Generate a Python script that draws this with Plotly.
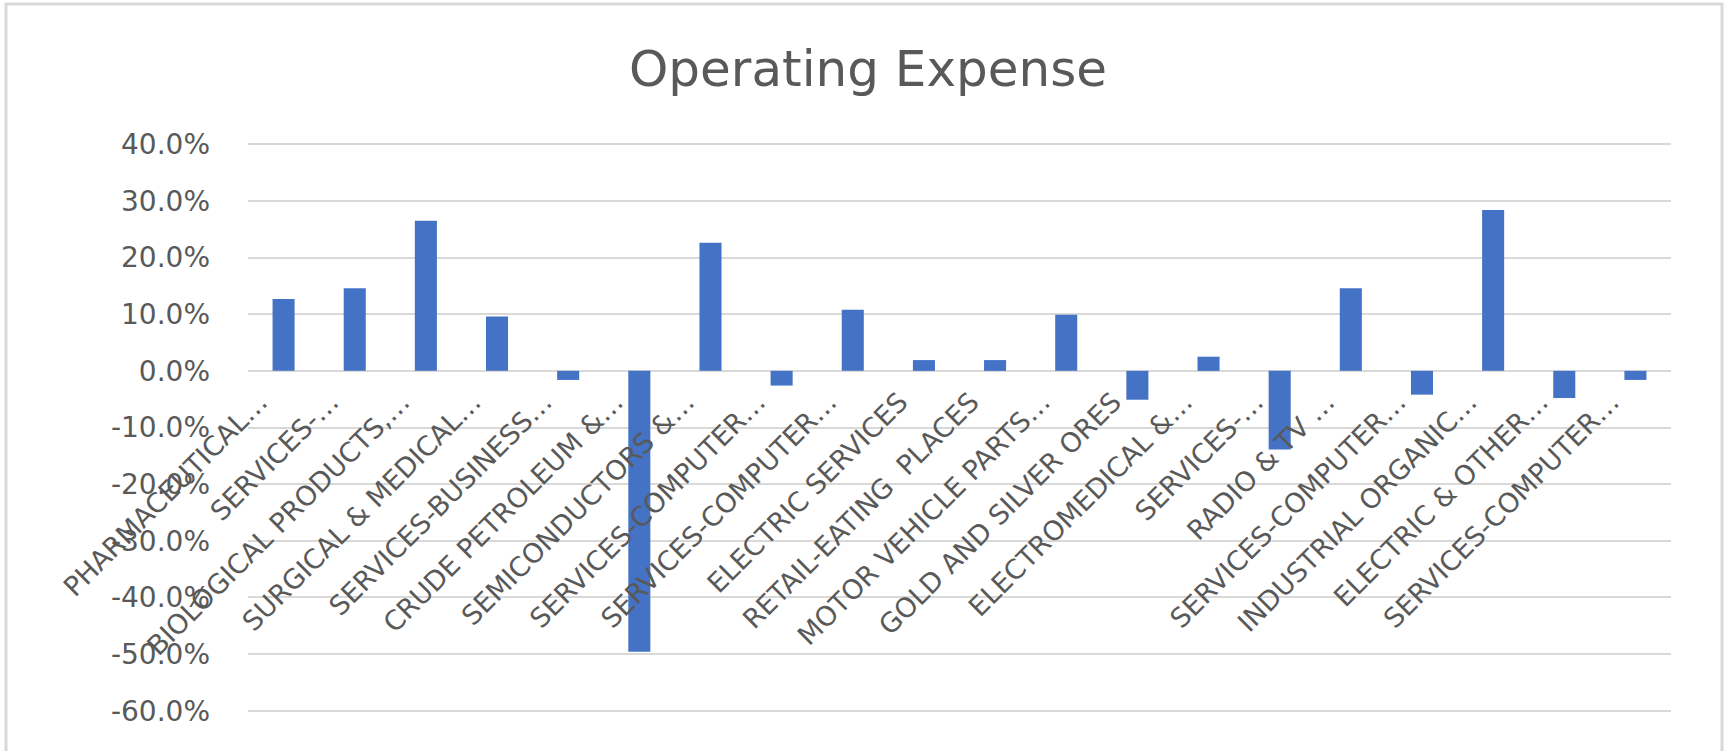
import plotly.graph_objects as go

# Category labels as shown (truncated the way the source chart does)
categories = [
    "PHARMACEUTICAL…",
    "SERVICES-…",
    "BIOLOGICAL PRODUCTS,…",
    "SURGICAL & MEDICAL…",
    "SERVICES-BUSINESS…",
    "CRUDE PETROLEUM &…",
    "SEMICONDUCTORS &…",
    "SERVICES-COMPUTER…",
    "SERVICES-COMPUTER…",
    "ELECTRIC SERVICES",
    "RETAIL-EATING  PLACES",
    "MOTOR VEHICLE PARTS…",
    "GOLD AND SILVER ORES",
    "ELECTROMEDICAL &…",
    "SERVICES-…",
    "RADIO & TV …",
    "SERVICES-COMPUTER…",
    "INDUSTRIAL ORGANIC…",
    "ELECTRIC & OTHER…",
    "SERVICES-COMPUTER…",
]

# Operating expense change, percent
opex_pct = [12.7, 14.6, 26.5, 9.6, -1.6, -49.6, 22.6, -2.6, 10.8, 1.9,
            1.9, 9.9, -5.1, 2.5, -13.9, 14.6, -4.2, 28.4, -4.8, -1.6]

y_ticks = [40, 30, 20, 10, 0, -10, -20, -30, -40, -50, -60]

BAR_COLOR = "#4472C4"
GRID_COLOR = "#d9d9d9"
TEXT_COLOR = "#595959"
FONT = "DejaVu Sans"

W, H = 1729, 751
L, R, T, B = 248, 58, 142, 38

positions = list(range(len(categories)))

fig = go.Figure()
fig.add_trace(go.Bar(
    x=positions,
    y=opex_pct,
    marker=dict(color=BAR_COLOR, line=dict(width=0)),
    hovertemplate="%{y:.1f}%<extra></extra>",
))

# pad the range a touch so the 40% and -60% gridlines are drawn
y_min, y_max = -60.4, 40.4
zero_pos = (0 - y_min) / (y_max - y_min)

fig.update_layout(
    width=W,
    height=H,
    margin=dict(l=L, r=R, t=T, b=B),
    paper_bgcolor="white",
    plot_bgcolor="white",
    bargap=0.69,
    showlegend=False,
    font=dict(family=FONT, color=TEXT_COLOR, size=27),
    title=dict(
        text="Operating Expense",
        x=868 / W,
        xanchor="center",
        xref="container",
        y=1 - 68 / H,
        yanchor="middle",
        yref="container",
        font=dict(family=FONT, size=50, color=TEXT_COLOR),
    ),
    xaxis=dict(
        tickmode="array",
        tickvals=positions,
        ticktext=categories,
        tickangle=-45,
        range=[-0.5, len(categories) - 0.5],
        anchor="free",
        position=zero_pos,
        showgrid=False,
        zeroline=False,
        showline=False,
        ticks="",
        ticklabelstandoff=9,
        ticklabelshift=-24,
        tickfont=dict(family=FONT, size=27, color=TEXT_COLOR),
    ),
    yaxis=dict(
        range=[y_min, y_max],
        tickmode="array",
        tickvals=y_ticks,
        ticktext=[f"{v:.1f}%" for v in y_ticks],
        showgrid=True,
        gridcolor=GRID_COLOR,
        gridwidth=2,
        zeroline=False,
        showline=False,
        ticks="",
        ticklabelstandoff=37,
        tickfont=dict(family=FONT, size=28, color=TEXT_COLOR),
    ),
)

# light chart-area frame around everything
pw, ph = W - L - R, H - T - B
fig.add_shape(
    type="rect",
    xref="paper", yref="paper",
    x0=(6 - L) / pw, x1=(1722 - L) / pw,
    y0=(H - B - 765) / ph, y1=(H - B - 4) / ph,
    line=dict(color=GRID_COLOR, width=3),
    fillcolor="rgba(0,0,0,0)",
    layer="below",
)

fig.write_html(
    "out.html",
    config={"displayModeBar": False},
    post_script="document.body.style.margin='0';",
)
